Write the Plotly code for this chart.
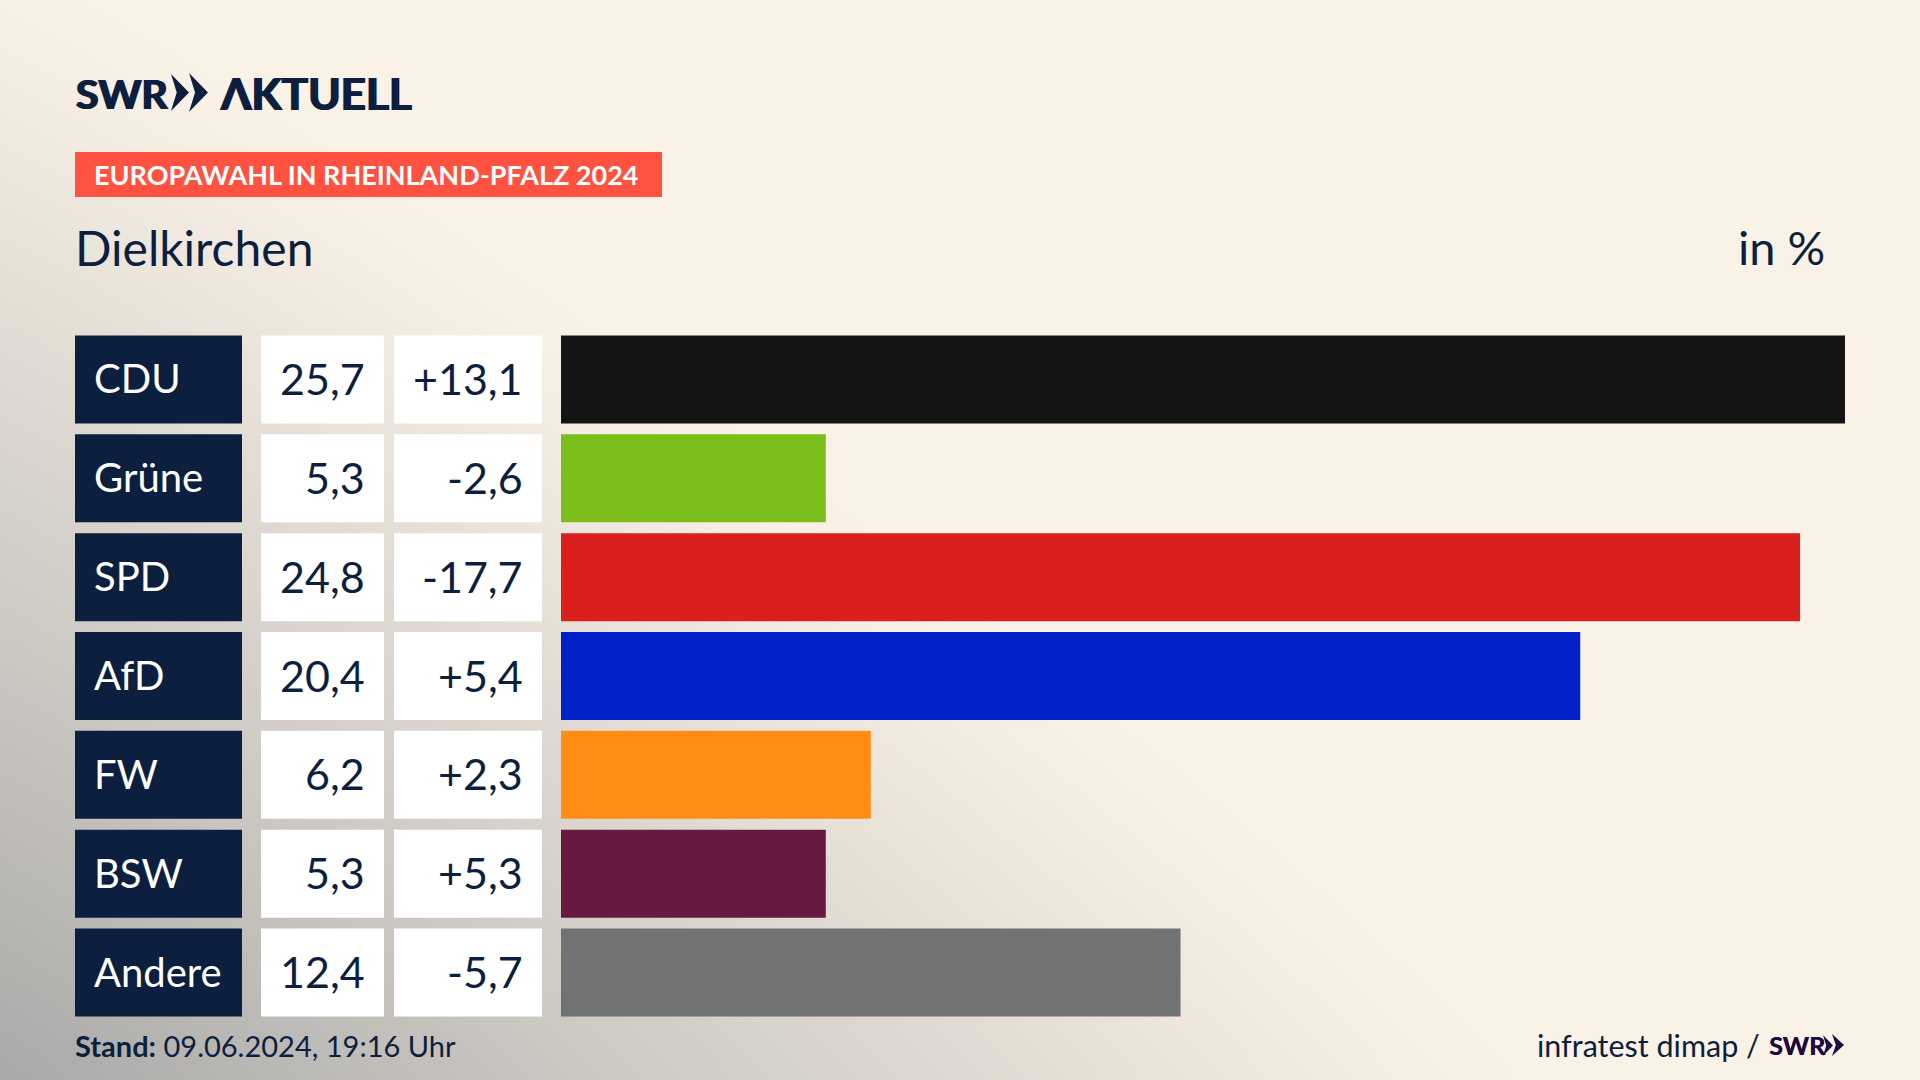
import numpy as np
import plotly.graph_objects as go

parties = ["CDU", "Grüne", "SPD", "AfD", "FW", "BSW", "Andere"]
shares = [25.7, 5.3, 24.8, 20.4, 6.2, 5.3, 12.4]
changes = [13.1, -2.6, -17.7, 5.4, 2.3, 5.3, -5.7]
colors = ["#141414", "#7BBD1A", "#D9201E", "#0020C8", "#FF8C14", "#67193F", "#717274"]

W, H = 1920, 1080
NAVY = "#0C1F3F"
PURPLE = "#1D0A3F"
FONT = "Lato"


def px(v):
    return v / W


def py(v):
    return 1 - v / H


def de(v, sign=False):
    return (f"{v:+.1f}" if sign else f"{v:.1f}").replace(".", ",")


# background: cream with a grey glow out of the lower left corner
gx = np.linspace(0, 1, 96)
gy = np.linspace(0, 1, 54)
xx, yy = np.meshgrid(gx, gy)
glow = np.clip(1 - ((xx / 0.8) ** 1.1 + (yy / 1.05) ** 1.1) ** (1 / 1.1), 0, 1) ** 1.2

fig = go.Figure()
fig.add_trace(go.Heatmap(z=glow, x=gx, y=gy, xaxis="x", yaxis="y", zmin=0, zmax=1, zsmooth="best",
                         showscale=False, hoverinfo="skip",
                         colorscale=[[0, "#FBF2E7"], [0.3, "#DFD9D1"], [1, "#A9A9A8"]]))

# four columns sharing one party axis
fig.add_trace(go.Bar(x=[1] * 7, y=parties, orientation="h", xaxis="x2", yaxis="y2",
                     marker=dict(color=NAVY, line_width=0), hoverinfo="skip"))
fig.add_trace(go.Bar(x=[1] * 7, y=parties, orientation="h", xaxis="x3", yaxis="y2",
                     marker=dict(color="white", line_width=0), hoverinfo="skip"))
fig.add_trace(go.Bar(x=[1] * 7, y=parties, orientation="h", xaxis="x4", yaxis="y2",
                     marker=dict(color="white", line_width=0), hoverinfo="skip"))
fig.add_trace(go.Bar(x=shares, y=parties, orientation="h", xaxis="x5", yaxis="y2",
                     marker=dict(color=colors, line_width=0)))

annos = []


def label(x, y, text, size, color=NAVY, anchor="left", yref="paper", weight=400, yshift=0, shadow="none"):
    annos.append(dict(x=px(x), y=y if yref != "paper" else py(y), xref="paper", yref=yref, text=text,
                      showarrow=False, xanchor=anchor, yanchor="middle", yshift=yshift,
                      font=dict(family=FONT, size=size, color=color, weight=weight, shadow=shadow)))


for p, s, c in zip(parties, shares, changes):
    label(92, p, p, 40, "white", yref="y2", yshift=1)
    label(367, p, de(s), 43, anchor="right", yref="y2", yshift=1)
    label(525, p, de(c, True), 43, anchor="right", yref="y2", yshift=1)

# the logo lettering is heavier than Lato bold, a thin shadow makes up for it
heavy = f"0.9px 0 0 {NAVY}, -0.9px 0 0 {NAVY}"
label(74, 93, "SWR", 41, weight=700, shadow=heavy)
label(218, 93, "ΛKTUELL", 44, weight=700, shadow=heavy)
label(92, 175, "EUROPAWAHL IN RHEINLAND-PFALZ 2024", 27, "white", weight=700)
label(73, 247, "Dielkirchen", 48)
label(1827, 247, "in %", 47, anchor="right")
label(73, 1045, "<b>Stand:</b> 09.06.2024, 19:16 Uhr", 29)
label(1762, 1045, "infratest dimap /", 30.5, anchor="right")
label(1767, 1045, "SWR", 25, PURPLE, weight=700, shadow=f"0.5px 0 0 {PURPLE}")


def chevron(x, y, w, h, color):
    # one ">" of the logo, in pixels from the top left
    pts = [(x, y), (x + w, y + h / 2), (x, y + h), (x + w * 0.32, y + h / 2)]
    path = "M" + " L".join(f"{px(a):.5f},{py(b):.5f}" for a, b in pts) + " Z"
    return dict(type="path", path=path, xref="paper", yref="paper", fillcolor=color, line_width=0)


shapes = [
    dict(type="rect", xref="paper", yref="paper", x0=px(75), x1=px(662), y0=py(197), y1=py(152),
         fillcolor="#FF5240", line_width=0, layer="above"),
    chevron(171, 74, 18, 37, NAVY),
    chevron(189, 73, 19, 39, NAVY),
    chevron(1823, 1035, 10, 21, PURPLE),
    chevron(1832, 1034, 12, 22, PURPLE),
]

hidden = dict(visible=False, fixedrange=True)
fig.update_layout(
    width=W, height=H, margin=dict(l=0, r=0, t=0, b=0), showlegend=False,
    paper_bgcolor="#FBF2E7", plot_bgcolor="rgba(0,0,0,0)", bargap=0.11,
    xaxis=dict(hidden, domain=[0, 1], range=[0, 1]),
    yaxis=dict(hidden, domain=[0, 1], range=[0, 1]),
    xaxis2=dict(hidden, domain=[px(75), px(242)], range=[0, 1], anchor="y2"),
    xaxis3=dict(hidden, domain=[px(261), px(384)], range=[0, 1], anchor="y2"),
    xaxis4=dict(hidden, domain=[px(394), px(542)], range=[0, 1], anchor="y2"),
    xaxis5=dict(hidden, domain=[px(561), px(1845)], range=[0, 25.7], anchor="y2"),
    yaxis2=dict(hidden, domain=[py(1022), py(330)], range=[6.5, -0.5], type="category", anchor="x2"),
    annotations=annos, shapes=shapes,
)

fig.write_html("out.html", config={"displayModeBar": False}, post_script="document.body.style.margin='0';")
